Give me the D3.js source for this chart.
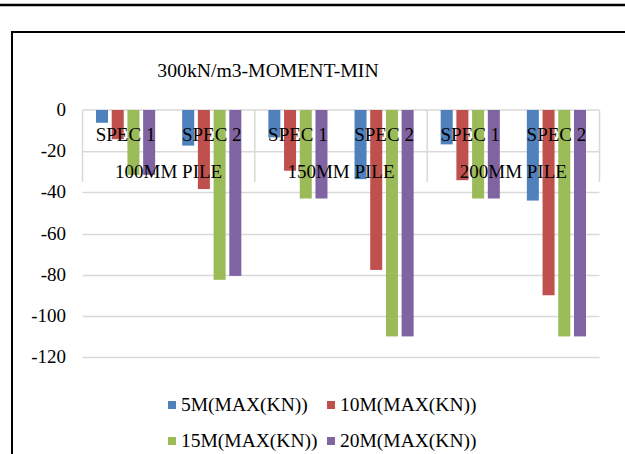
<!DOCTYPE html>
<html>
<head>
    <meta charset="utf-8">
    <script src="https://cdn.jsdelivr.net/npm/d3@7"></script>
    <title>300kN/m3-MOMENT-MIN</title>
    <style>
        body { margin: 0; background: white; }
        svg { display: block; }
        text { font-family: "Liberation Serif", "Times New Roman", serif; fill: #000; }
    </style>
</head>
<body>
<svg id="chart" width="625" height="454"></svg>
<script>
    // data
    var piles = ['100MM PILE', '150MM PILE', '200MM PILE']
    var specs = ['SPEC 1', 'SPEC 2']
    var seriesNames = ['5M(MAX(KN))', '10M(MAX(KN))', '15M(MAX(KN))', '20M(MAX(KN))']
    var colors = ['#4f81bd', '#c0504d', '#9bbb59', '#8064a2']
    // order: 100 spec1, 100 spec2, 150 spec1, 150 spec2, 200 spec1, 200 spec2
    var m5 = [-6.2, -17.3, -13.3, -33.6, -16.7, -44]
    var m10 = [-14.2, -38.4, -29.5, -77.7, -34.1, -90]
    var m15 = [-31.5, -82.5, -43, -110, -43, -110]
    var m20 = [-31.5, -80.6, -43, -110, -43, -110]
    var yTicks = [0, -20, -40, -60, -80, -100, -120]

    var series = [m5, m10, m15, m20]

    var svg = d3.select('#chart')
    var grid = '#d9d9d9'

    // outer lines
    svg.append('line').attr('x1', 0).attr('x2', 625).attr('y1', 5).attr('y2', 5)
        .attr('stroke', '#000').attr('stroke-width', 2.5)
    svg.append('rect').attr('x', 12).attr('y', 32).attr('width', 700).attr('height', 500)
        .attr('fill', 'white').attr('stroke', '#000').attr('stroke-width', 2)

    svg.append('text').attr('x', 268).attr('y', 77).attr('text-anchor', 'middle')
        .attr('font-size', 19.7).text('300kN/m3-MOMENT-MIN')

    var left = 82.5, right = 599.5
    var y = d3.scaleLinear().domain([-120, 0]).range([357, 110])
    var xGroup = d3.scaleBand().domain(piles).range([left, right])
    var xSpec = d3.scaleBand().domain(specs).range([0, xGroup.bandwidth()])
    var xSer = d3.scaleBand().domain(seriesNames).range([0, xSpec.bandwidth()])
        .paddingInner(0.235).paddingOuter(0.86)

    // gridlines (below the category box)
    svg.append('g').selectAll('line').data(yTicks.filter(function (d) { return d < -20 }))
        .enter().append('line')
        .attr('x1', left).attr('x2', right)
        .attr('y1', function (d) { return Math.round(y(d)) + 0.5 })
        .attr('y2', function (d) { return Math.round(y(d)) + 0.5 })
        .attr('stroke', grid).attr('stroke-width', 1.5)

    // category box lines
    var box = svg.append('g').attr('stroke', grid).attr('stroke-width', 1.5)
    box.append('line').attr('x1', left).attr('x2', right).attr('y1', y(0)).attr('y2', y(0))
    box.append('line').attr('x1', left).attr('x2', right).attr('y1', y(-20) + 0.5).attr('y2', y(-20) + 0.5)
    var divs = piles.map(function (p) { return xGroup(p) }).concat([right])
    box.selectAll('line.div').data(divs).enter().append('line').attr('class', 'div')
        .attr('x1', function (d) { return d }).attr('x2', function (d) { return d })
        .attr('y1', y(0)).attr('y2', 182)

    // bars
    var rows = []
    piles.forEach(function (p, gi) {
        specs.forEach(function (s, si) {
            seriesNames.forEach(function (n, k) {
                rows.push({ pile: p, spec: s, name: n, k: k, v: series[k][gi * 2 + si] })
            })
        })
    })
    svg.append('g').selectAll('rect').data(rows).enter().append('rect')
        .attr('x', function (d) { return xGroup(d.pile) + xSpec(d.spec) + xSer(d.name) })
        .attr('y', y(0))
        .attr('width', xSer.bandwidth())
        .attr('height', function (d) { return y(d.v) - y(0) })
        .attr('fill', function (d) { return colors[d.k] })

    // y axis labels
    svg.append('g').selectAll('text').data(yTicks).enter().append('text')
        .attr('x', 66).attr('y', function (d) { return y(d) + 6 })
        .attr('text-anchor', 'end').attr('font-size', 19)
        .text(function (d) { return d })

    // category labels on top of bars
    var labs = svg.append('g').attr('font-size', 19).attr('text-anchor', 'middle')
    piles.forEach(function (p) {
        specs.forEach(function (s) {
            labs.append('text').attr('x', xGroup(p) + xSpec(s) + xSpec.bandwidth() / 2)
                .attr('y', 141).text(s)
        })
        labs.append('text').attr('x', xGroup(p) + xGroup.bandwidth() / 2).attr('y', 178).text(p)
    })

    // legend
    var legX = [168, 327], legY = [405, 441]
    var leg = svg.append('g').selectAll('g').data(seriesNames).enter().append('g')
        .attr('transform', function (d, i) { return 'translate(' + legX[i % 2] + ',' + legY[Math.floor(i / 2)] + ')' })
    leg.append('rect').attr('x', 0).attr('y', -4).attr('width', 8).attr('height', 8)
        .attr('fill', function (d, i) { return colors[i] })
    leg.append('text').attr('x', 13).attr('y', 6).attr('font-size', 19.5)
        .text(function (d) { return d })
</script>
</body>
</html>
